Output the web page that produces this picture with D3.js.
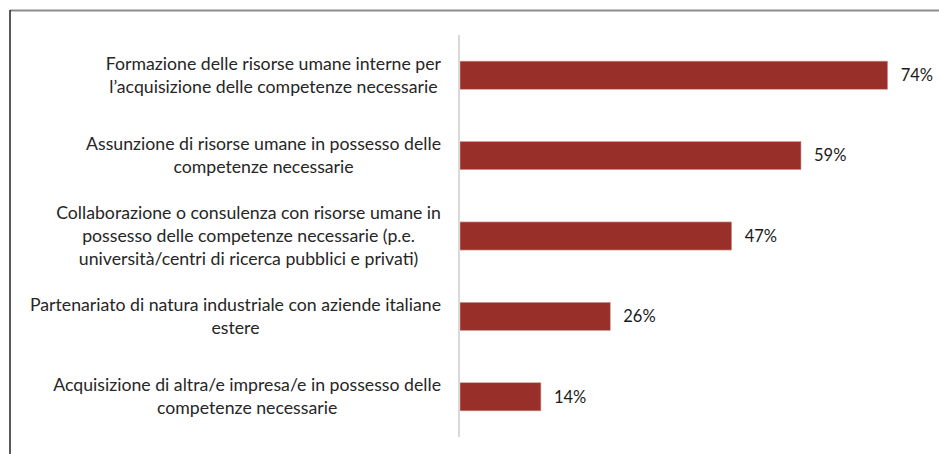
<!DOCTYPE html>
<html>
<head>
<meta charset="utf-8">
<script src="https://cdn.jsdelivr.net/npm/d3@7"></script>
<style>
  html, body { margin: 0; padding: 0; background: #fff; }
  svg { display: block; }
  text { font-family: "Source Sans Pro", Lato, "Noto Sans", sans-serif; }
</style>
</head>
<body>
<svg id="chart" width="939" height="454"></svg>
<script>
// Categories (each label split into its display lines)
const categories = [
  ["Formazione delle risorse umane interne per", "l\u2019acquisizione delle competenze necessarie"],
  ["Assunzione di risorse umane in possesso delle", "competenze necessarie"],
  ["Collaborazione o consulenza con risorse umane in", "possesso delle competenze necessarie (p.e.", "universit\u00e0/centri di ricerca pubblici e privati)"],
  ["Partenariato di natura industriale con aziende italiane", "estere"],
  ["Acquisizione di altra/e impresa/e in possesso delle", "competenze necessarie"]
];
const values = [74, 59, 47, 26, 14];

const svg = d3.select("#chart");
const W = 939, H = 454;

// frame lines
svg.append("line").attr("x1", 10).attr("x2", W).attr("y1", 10.5).attr("y2", 10.5)
  .attr("stroke", "#8c8c8c").attr("stroke-width", 2);
svg.append("line").attr("x1", 10).attr("x2", 10).attr("y1", 10).attr("y2", H)
  .attr("stroke", "#222").attr("stroke-width", 1.5);

const x0 = 460;
const x = d3.scaleLinear().domain([0, 74]).range([x0, 887.7]);
const y = d3.scaleBand().domain(d3.range(values.length)).range([35, 437]).paddingInner(0.65).paddingOuter(0.325);

// bars
svg.append("g").selectAll("rect").data(values).join("rect")
  .attr("x", x(0))
  .attr("y", (d, i) => y(i))
  .attr("width", d => x(d) - x(0))
  .attr("height", y.bandwidth())
  .attr("fill", "#982f28")
  .attr("stroke", "#d9a09c")
  .attr("stroke-width", 0.6);

// category axis line
svg.append("line").attr("x1", x0 - 1).attr("x2", x0 - 1).attr("y1", 35).attr("y2", 437)
  .attr("stroke", "#d9d9d9").attr("stroke-width", 2);

// value labels
svg.append("g").selectAll("text").data(values).join("text")
  .attr("x", d => x(d) + 13)
  .attr("y", (d, i) => y(i) + y.bandwidth() / 2)
  .attr("dy", "0.35em")
  .attr("font-size", 16.5)
  .attr("fill", "#1a1a1a")
  .text(d => d + "%");

// category labels: lines centred within a block right-aligned to the axis
const lineH = 23;
const labelRight = 441;
const lg = svg.append("g");
categories.forEach((lines, i) => {
  const cy = y(i) + y.bandwidth() / 2;
  const g = lg.append("g");
  const texts = lines.map((t, k) => g.append("text")
    .attr("font-size", 17.7)
    .attr("fill", "#262626")
    .attr("text-anchor", "middle")
    .attr("y", cy + (k - (lines.length - 1) / 2) * lineH)
    .attr("dy", "0.35em")
    .text(t));
  const maxW = d3.max(texts, t => t.node().getComputedTextLength());
  texts.forEach(t => t.attr("x", labelRight - maxW / 2));
});
</script>
</body>
</html>
